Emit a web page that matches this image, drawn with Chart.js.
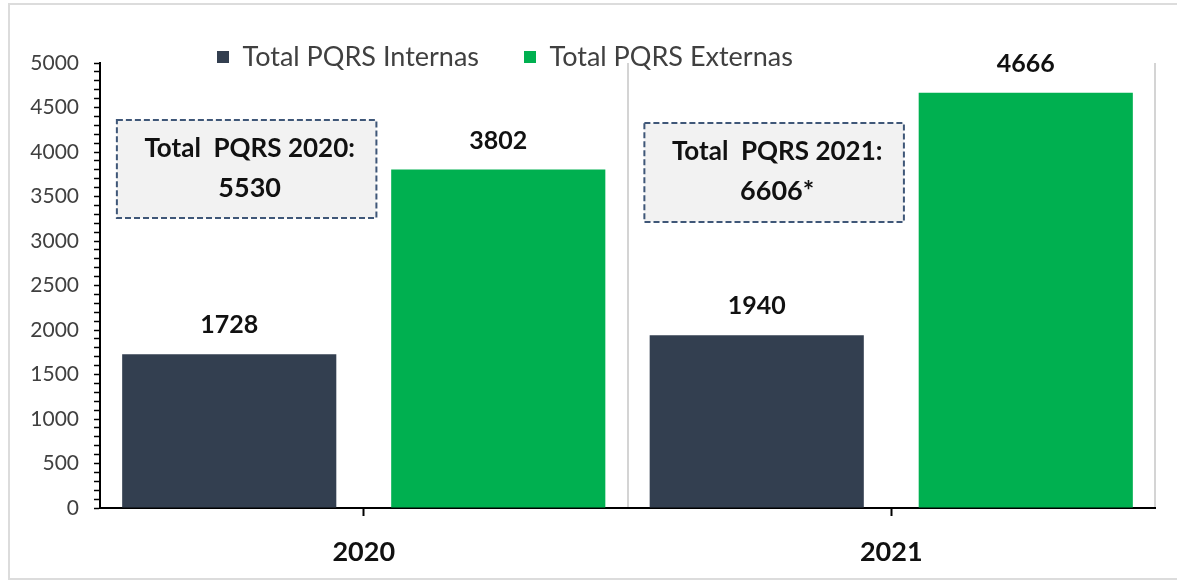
<!DOCTYPE html>
<html><head><meta charset="utf-8">
<script src="https://cdn.jsdelivr.net/npm/chart.js@4.4.1/dist/chart.umd.min.js"></script>
<style>
html,body{margin:0;padding:0;background:#fff;overflow:hidden;}
#wrap{position:relative;width:1177px;height:585px;overflow:hidden;}
#frame{position:absolute;left:8px;top:3px;width:1200px;height:577px;border:2px solid #dcdcdc;box-sizing:border-box;pointer-events:none;}
canvas{position:absolute;left:0;top:0;}
</style></head><body>
<div id="wrap"><canvas id="c" width="1177" height="585"></canvas><div id="frame"></div></div>
<script>
// ---- data ----
const categories = ['2020', '2021'];
const seriesNames = ['Total PQRS Internas', 'Total PQRS Externas'];
const internas = [1728, 1940];
const externas = [3802, 4666];
const totalTitles = ['Total  PQRS 2020:', 'Total  PQRS 2021:'];
const totalValues = ['5530', '6606*'];
const yTickLabels = [0, 500, 1000, 1500, 2000, 2500, 3000, 3500, 4000, 4500, 5000];

// ---- styling / layout constants ----
const FONT = 'Lato, "Liberation Sans", sans-serif';
const BOX_GEOM = { x0: -0.468, x1: 0.024, top: [4360, 4326], bottom: [3258, 3213] };
const LEGEND_POS = { x: 217, cy: 57 };
const LEGEND_FONT = 27, LEGEND_PAD = 45;
const PLOT_TOP = 63;

Chart.defaults.font.family = FONT;

const valueLabels = {
  id: 'valueLabels',
  afterDatasetsDraw(chart) {
    const ctx = chart.ctx;
    ctx.save();
    ctx.font = 'bold 25px ' + FONT;
    ctx.fillStyle = '#111';
    ctx.textAlign = 'center';
    ctx.textBaseline = 'alphabetic';
    chart.data.datasets.forEach((ds, i) => {
      chart.getDatasetMeta(i).data.forEach((bar, j) => {
        ctx.fillText(String(ds.data[j]), bar.x, bar.y - 21);
      });
    });
    ctx.restore();
  }
};

const totalBoxes = {
  id: 'totalBoxes',
  afterDatasetsDraw(chart) {
    const ctx = chart.ctx;
    const xs = chart.scales.x, ys = chart.scales.y;
    ctx.save();
    categories.forEach((c, j) => {
      const l = xs.getPixelForValue(j + BOX_GEOM.x0);
      const r = xs.getPixelForValue(j + BOX_GEOM.x1);
      const t = ys.getPixelForValue(BOX_GEOM.top[j]);
      const b = ys.getPixelForValue(BOX_GEOM.bottom[j]);
      ctx.fillStyle = '#f2f2f2';
      ctx.fillRect(l, t, r - l, b - t);
      ctx.setLineDash([6, 3]);
      ctx.lineWidth = 2;
      ctx.strokeStyle = '#3f5778';
      ctx.strokeRect(l, t, r - l, b - t);
      ctx.setLineDash([]);
      ctx.fillStyle = '#111';
      ctx.font = 'bold 26px ' + FONT;
      ctx.textAlign = 'center';
      ctx.textBaseline = 'middle';
      const cx = (l + r) / 2 + 3;
      ctx.fillText(totalTitles[j], cx, t + 29);
      ctx.font = 'bold 27px ' + FONT;
      ctx.fillText(totalValues[j], cx, t + 68);
    });
    ctx.restore();
  }
};

const legendPlace = {
  id: 'legendPlace',
  afterLayout(chart) {
    const lg = chart.legend;
    if (!lg) return;
    const pad = lg.options.labels.padding;
    const fs = lg.options.labels.font.size;
    const h = lg.height;
    lg.left = LEGEND_POS.x - pad;
    lg.right = chart.width;
    lg.top = LEGEND_POS.cy - pad - fs / 2;
    lg.bottom = lg.top + h + pad;
  }
};

// legend (top) height in Chart.js = itemHeight + padding + 10
const legendHeight = LEGEND_FONT + LEGEND_PAD + 10;

new Chart(document.getElementById('c'), {
  type: 'bar',
  data: {
    labels: categories,
    datasets: [
      { label: seriesNames[0], data: internas, backgroundColor: '#333f50', categoryPercentage: 1.02, barPercentage: 0.796 },
      { label: seriesNames[1], data: externas, backgroundColor: '#00b050', categoryPercentage: 1.02, barPercentage: 0.796 }
    ]
  },
  options: {
    responsive: false,
    animation: false,
    layout: { padding: { top: PLOT_TOP - legendHeight, right: 22, left: 0, bottom: 0 } },
    plugins: {
      legend: {
        position: 'top', align: 'start',
        labels: { boxWidth: 12, boxHeight: 12, padding: LEGEND_PAD, color: '#404040', font: { size: LEGEND_FONT } }
      },
      tooltip: { enabled: false }
    },
    scales: {
      x: {
        position: 'bottom',
        grid: { display: true, offset: false, drawOnChartArea: false, drawTicks: true, tickLength: 8, tickColor: '#000', tickWidth: 2 },
        border: { display: true, color: '#000', width: 2 },
        ticks: { color: '#111', font: { size: 27, weight: 'bold' }, padding: 20 },
        afterFit(s) { s.height = 77; }
      },
      xg: {
        type: 'category', position: 'bottom', offset: true,
        grid: { offset: true, drawOnChartArea: true, drawTicks: false, color: '#d4d4d4', lineWidth: 2 },
        border: { display: false },
        ticks: { display: false },
        afterFit(s) { s.height = 0; }
      },
      y: {
        min: 0, max: 5000,
        border: { display: true, color: '#000', width: 2 },
        grid: { drawOnChartArea: false, drawTicks: true, tickLength: 6, tickColor: '#000', tickWidth: 1.5 },
        ticks: {
          stepSize: 100, autoSkip: false, maxTicksLimit: 100, color: '#404040', font: { size: 21 }, padding: 15,
          callback: (v) => yTickLabels.includes(v) ? String(v) : ''
        },
        afterFit(s) { s.width = 100; }
      }
    }
  },
  plugins: [legendPlace, totalBoxes, valueLabels]
});
</script>
</body></html>
